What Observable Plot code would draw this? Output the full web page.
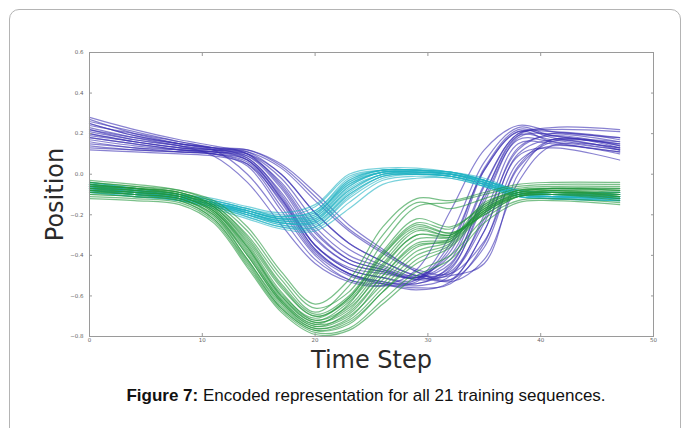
<!DOCTYPE html>
<html>
<head>
<meta charset="utf-8">
<script src="https://cdn.jsdelivr.net/npm/d3@7"></script>
<script src="https://cdn.jsdelivr.net/npm/@observablehq/plot@0.6"></script>
<style>
  html, body { margin: 0; padding: 0; background: #fff; width: 683px; height: 428px; overflow: hidden; }
  #panel { position: absolute; left: 9px; top: 9px; width: 672px; height: 440px; border: 1px solid #b4b4b4; border-radius: 10px; box-sizing: border-box; }
  #chart { position: absolute; left: 0; top: 0; }
  #caption { position: absolute; left: 0; width: 732px; top: 386px; text-align: center; font-family: "Liberation Sans", Arial, sans-serif; font-size: 17px; color: #111; }
</style>
</head>
<body>
<div id="panel"></div>
<div id="chart"></div>
<div id="caption"><b>Figure 7:</b> Encoded representation for all 21 training sequences.</div>
<script>
// Time steps at which each sequence is sampled
const steps = [0, 4, 8, 11, 14, 17, 20, 23, 26, 29, 32, 35, 38, 41, 47];

// Dimension 1 (blue) — 21 training sequences
const blueSeqs = [
  [0.28, 0.22, 0.17, 0.14, 0.10, -0.06, -0.29, -0.42, -0.47, -0.50, -0.40, -0.05, 0.20, 0.22, 0.21],
  [0.25, 0.19, 0.15, 0.13, 0.11, 0.00, -0.19, -0.34, -0.43, -0.50, -0.48, -0.22, 0.12, 0.20, 0.17],
  [0.22, 0.17, 0.14, 0.12, 0.11, 0.03, -0.13, -0.28, -0.39, -0.48, -0.52, -0.36, 0.04, 0.17, 0.14],
  [0.20, 0.16, 0.13, 0.12, 0.09, -0.07, -0.31, -0.44, -0.48, -0.51, -0.38, 0.02, 0.21, 0.19, 0.15],
  [0.18, 0.15, 0.12, 0.11, 0.08, -0.10, -0.35, -0.47, -0.51, -0.54, -0.45, -0.10, 0.19, 0.17, 0.12],
  [0.15, 0.13, 0.11, 0.10, 0.07, -0.12, -0.37, -0.49, -0.53, -0.55, -0.50, -0.20, 0.15, 0.15, 0.11],
  [0.13, 0.12, 0.11, 0.10, 0.05, -0.16, -0.39, -0.50, -0.54, -0.56, -0.54, -0.34, 0.06, 0.14, 0.10],
  [0.24, 0.20, 0.16, 0.12, 0.00, -0.21, -0.42, -0.52, -0.54, -0.52, -0.30, 0.06, 0.23, 0.19, 0.16],
  [0.21, 0.17, 0.14, 0.09, -0.04, -0.25, -0.44, -0.53, -0.55, -0.47, -0.18, 0.12, 0.24, 0.21, 0.18],
  [0.19, 0.16, 0.13, 0.12, 0.12, 0.05, -0.09, -0.25, -0.37, -0.48, -0.53, -0.42, -0.04, 0.14, 0.13],
  [0.17, 0.14, 0.12, 0.11, 0.10, 0.00, -0.19, -0.34, -0.43, -0.50, -0.52, -0.28, 0.10, 0.17, 0.12],
  [0.26, 0.21, 0.16, 0.13, 0.08, -0.09, -0.32, -0.44, -0.48, -0.51, -0.44, -0.10, 0.19, 0.23, 0.22],
  [0.16, 0.13, 0.12, 0.11, 0.07, -0.11, -0.35, -0.47, -0.51, -0.52, -0.34, 0.02, 0.21, 0.16, 0.11],
  [0.23, 0.18, 0.14, 0.12, 0.10, -0.02, -0.23, -0.37, -0.45, -0.51, -0.50, -0.44, 0.00, 0.17, 0.13],
  [0.14, 0.12, 0.11, 0.10, 0.06, -0.14, -0.38, -0.49, -0.53, -0.54, -0.47, -0.12, 0.17, 0.16, 0.12],
  [0.27, 0.20, 0.15, 0.12, 0.07, -0.12, -0.35, -0.46, -0.49, -0.51, -0.42, -0.06, 0.20, 0.21, 0.18],
  [0.20, 0.16, 0.13, 0.11, 0.09, -0.04, -0.26, -0.40, -0.46, -0.52, -0.49, -0.24, 0.13, 0.19, 0.14],
  [0.12, 0.11, 0.10, 0.09, 0.05, -0.13, -0.37, -0.49, -0.54, -0.57, -0.53, -0.28, 0.09, 0.13, 0.07],
  [0.22, 0.18, 0.15, 0.13, 0.12, 0.04, -0.11, -0.27, -0.38, -0.47, -0.49, -0.33, 0.03, 0.16, 0.15],
  [0.18, 0.15, 0.12, 0.10, 0.04, -0.18, -0.40, -0.52, -0.55, -0.53, -0.36, 0.03, 0.22, 0.18, 0.13],
  [0.25, 0.19, 0.15, 0.13, 0.10, -0.05, -0.28, -0.42, -0.47, -0.52, -0.46, -0.14, 0.18, 0.20, 0.16]
];

// Dimension 2 (cyan)
const cyanSeqs = [
  [-0.04, -0.07, -0.10, -0.13, -0.17, -0.21, -0.18, -0.02, 0.02, 0.02, 0.01, -0.03, -0.09, -0.10, -0.10],
  [-0.06, -0.08, -0.11, -0.14, -0.19, -0.23, -0.22, -0.06, 0.01, 0.01, 0.00, -0.04, -0.10, -0.11, -0.11],
  [-0.08, -0.10, -0.12, -0.15, -0.20, -0.25, -0.25, -0.10, -0.01, 0.00, -0.01, -0.05, -0.10, -0.11, -0.12],
  [-0.05, -0.08, -0.11, -0.14, -0.18, -0.22, -0.20, -0.04, 0.02, 0.02, 0.00, -0.03, -0.08, -0.10, -0.10],
  [-0.07, -0.09, -0.12, -0.16, -0.21, -0.26, -0.27, -0.14, -0.03, -0.01, -0.02, -0.06, -0.11, -0.12, -0.12],
  [-0.06, -0.09, -0.11, -0.14, -0.18, -0.21, -0.16, -0.01, 0.02, 0.02, 0.01, -0.02, -0.08, -0.09, -0.09],
  [-0.09, -0.11, -0.13, -0.16, -0.20, -0.24, -0.24, -0.09, 0.00, 0.00, -0.01, -0.05, -0.11, -0.12, -0.13],
  [-0.05, -0.07, -0.10, -0.13, -0.17, -0.20, -0.19, -0.05, 0.01, 0.01, 0.00, -0.04, -0.09, -0.10, -0.11],
  [-0.07, -0.10, -0.12, -0.15, -0.19, -0.24, -0.23, -0.08, 0.00, 0.01, 0.00, -0.04, -0.10, -0.11, -0.11],
  [-0.08, -0.10, -0.13, -0.17, -0.22, -0.27, -0.28, -0.17, -0.05, -0.02, -0.02, -0.06, -0.11, -0.12, -0.13],
  [-0.06, -0.08, -0.11, -0.14, -0.18, -0.22, -0.21, -0.05, 0.01, 0.02, 0.01, -0.03, -0.09, -0.10, -0.10],
  [-0.04, -0.07, -0.10, -0.12, -0.16, -0.19, -0.15, 0.00, 0.03, 0.03, 0.01, -0.03, -0.08, -0.09, -0.09],
  [-0.07, -0.09, -0.12, -0.15, -0.20, -0.24, -0.23, -0.07, 0.00, 0.01, 0.00, -0.05, -0.10, -0.11, -0.12],
  [-0.08, -0.10, -0.12, -0.15, -0.19, -0.23, -0.22, -0.08, 0.00, 0.00, -0.01, -0.05, -0.10, -0.11, -0.12],
  [-0.05, -0.08, -0.11, -0.14, -0.18, -0.22, -0.20, -0.03, 0.02, 0.02, 0.00, -0.03, -0.09, -0.10, -0.10],
  [-0.06, -0.09, -0.12, -0.15, -0.20, -0.25, -0.26, -0.12, -0.02, 0.00, -0.01, -0.05, -0.10, -0.11, -0.11],
  [-0.07, -0.09, -0.11, -0.14, -0.18, -0.22, -0.19, -0.04, 0.01, 0.01, 0.00, -0.04, -0.09, -0.10, -0.11],
  [-0.09, -0.11, -0.13, -0.16, -0.21, -0.26, -0.26, -0.11, -0.01, 0.00, -0.01, -0.06, -0.11, -0.12, -0.13],
  [-0.05, -0.08, -0.10, -0.13, -0.17, -0.21, -0.18, -0.03, 0.02, 0.02, 0.01, -0.03, -0.08, -0.09, -0.10],
  [-0.06, -0.09, -0.11, -0.14, -0.19, -0.23, -0.21, -0.06, 0.01, 0.01, 0.00, -0.04, -0.10, -0.11, -0.11],
  [-0.08, -0.10, -0.12, -0.15, -0.19, -0.24, -0.24, -0.10, -0.01, 0.00, -0.01, -0.05, -0.10, -0.12, -0.12]
];

// Dimension 3 (green)
const greenSeqs = [
  [-0.03, -0.05, -0.08, -0.14, -0.28, -0.50, -0.66, -0.58, -0.34, -0.16, -0.14, -0.10, -0.06, -0.05, -0.05],
  [-0.05, -0.07, -0.09, -0.16, -0.33, -0.56, -0.70, -0.62, -0.42, -0.27, -0.30, -0.17, -0.09, -0.07, -0.07],
  [-0.07, -0.08, -0.10, -0.17, -0.36, -0.60, -0.73, -0.66, -0.48, -0.32, -0.31, -0.18, -0.10, -0.08, -0.09],
  [-0.08, -0.09, -0.11, -0.19, -0.40, -0.63, -0.75, -0.70, -0.54, -0.38, -0.33, -0.16, -0.09, -0.08, -0.10],
  [-0.10, -0.11, -0.13, -0.22, -0.44, -0.66, -0.77, -0.74, -0.58, -0.44, -0.36, -0.19, -0.11, -0.10, -0.12],
  [-0.04, -0.06, -0.09, -0.15, -0.30, -0.52, -0.68, -0.55, -0.30, -0.14, -0.17, -0.12, -0.07, -0.06, -0.06],
  [-0.06, -0.07, -0.10, -0.18, -0.38, -0.62, -0.74, -0.64, -0.40, -0.25, -0.29, -0.20, -0.11, -0.09, -0.09],
  [-0.09, -0.10, -0.12, -0.20, -0.42, -0.64, -0.76, -0.72, -0.56, -0.40, -0.34, -0.15, -0.08, -0.08, -0.11],
  [-0.11, -0.12, -0.14, -0.23, -0.45, -0.67, -0.78, -0.76, -0.62, -0.48, -0.40, -0.22, -0.13, -0.12, -0.14],
  [-0.05, -0.07, -0.09, -0.15, -0.31, -0.54, -0.69, -0.60, -0.38, -0.22, -0.26, -0.16, -0.08, -0.07, -0.08],
  [-0.07, -0.08, -0.11, -0.18, -0.37, -0.61, -0.73, -0.67, -0.46, -0.30, -0.31, -0.19, -0.10, -0.09, -0.10],
  [-0.12, -0.13, -0.15, -0.24, -0.46, -0.68, -0.79, -0.77, -0.64, -0.50, -0.42, -0.24, -0.14, -0.13, -0.15],
  [-0.06, -0.07, -0.09, -0.16, -0.34, -0.58, -0.72, -0.63, -0.44, -0.28, -0.30, -0.18, -0.09, -0.07, -0.08],
  [-0.04, -0.06, -0.08, -0.13, -0.26, -0.48, -0.64, -0.52, -0.26, -0.12, -0.13, -0.09, -0.05, -0.04, -0.04],
  [-0.08, -0.09, -0.11, -0.19, -0.39, -0.62, -0.74, -0.69, -0.50, -0.34, -0.32, -0.17, -0.10, -0.09, -0.11],
  [-0.09, -0.10, -0.12, -0.21, -0.42, -0.65, -0.76, -0.71, -0.52, -0.36, -0.32, -0.14, -0.09, -0.09, -0.12],
  [-0.06, -0.08, -0.10, -0.17, -0.35, -0.59, -0.71, -0.61, -0.40, -0.26, -0.29, -0.20, -0.11, -0.08, -0.08],
  [-0.10, -0.11, -0.13, -0.22, -0.43, -0.66, -0.77, -0.73, -0.58, -0.42, -0.35, -0.18, -0.11, -0.10, -0.13],
  [-0.07, -0.09, -0.11, -0.18, -0.36, -0.60, -0.72, -0.65, -0.45, -0.30, -0.30, -0.17, -0.10, -0.09, -0.10],
  [-0.05, -0.07, -0.10, -0.16, -0.32, -0.55, -0.70, -0.61, -0.39, -0.24, -0.27, -0.15, -0.08, -0.07, -0.07],
  [-0.08, -0.10, -0.12, -0.20, -0.40, -0.63, -0.75, -0.68, -0.50, -0.35, -0.33, -0.19, -0.11, -0.10, -0.11]
];

const xTicks = [0, 10, 20, 30, 40, 50];
const yTicks = [-0.8, -0.6, -0.4, -0.2, 0.0, 0.2, 0.4, 0.6];
const xLabel = "Time Step";
const yLabel = "Position";

const dims = [
  {name: "blue", seqs: blueSeqs, color: "#3a2fb2"},
  {name: "cyan", seqs: cyanSeqs, color: "#1fb2c3"},
  {name: "green", seqs: greenSeqs, color: "#22963a"}
];

const rows = [];
for (const d of dims) {
  d.seqs.forEach((seq, i) => {
    seq.forEach((v, j) => rows.push({dim: d.name, seq: d.name + i, t: steps[j], v, color: d.color}));
  });
}

const fmt = d3.format(".1f");
const chart = Plot.plot({
  width: 683,
  height: 380,
  marginLeft: 89,
  marginRight: 30,
  marginTop: 52,
  marginBottom: 44,
  x: {domain: [0, 50]},
  y: {domain: [-0.8, 0.6]},
  style: {fontFamily: "'DejaVu Sans', sans-serif", background: "transparent"},
  marks: [
    Plot.line(rows, {x: "t", y: "v", z: "seq", stroke: "color", strokeWidth: 1.2, strokeOpacity: 0.6, curve: "catmull-rom"}),
    Plot.frame({stroke: "#9a9a9a"}),
    Plot.axisX(xTicks, {anchor: "bottom", tickSize: -3, tickPadding: 5, fontSize: 5.5, fill: "#666", stroke: "#999", label: null}),
    Plot.axisX(xTicks, {anchor: "top", tickSize: -3, tickFormat: () => "", stroke: "#999", label: null}),
    Plot.axisY(yTicks, {anchor: "left", tickSize: -3, tickPadding: 9, fontSize: 5.5, fill: "#666", stroke: "#999", tickFormat: fmt, label: null}),
    Plot.axisY(yTicks, {anchor: "right", tickSize: -3, tickFormat: () => "", stroke: "#999", label: null}),
    Plot.text([xLabel], {frameAnchor: "bottom", dy: 31, fontSize: 24, fill: "#2a2a2a", textAnchor: "middle", text: d => d}),
    Plot.text([yLabel], {frameAnchor: "left", dx: -34, rotate: -90, fontSize: 24, fill: "#2a2a2a", textAnchor: "middle", text: d => d})
  ]
});
document.getElementById("chart").appendChild(chart);
</script>
</body>
</html>
